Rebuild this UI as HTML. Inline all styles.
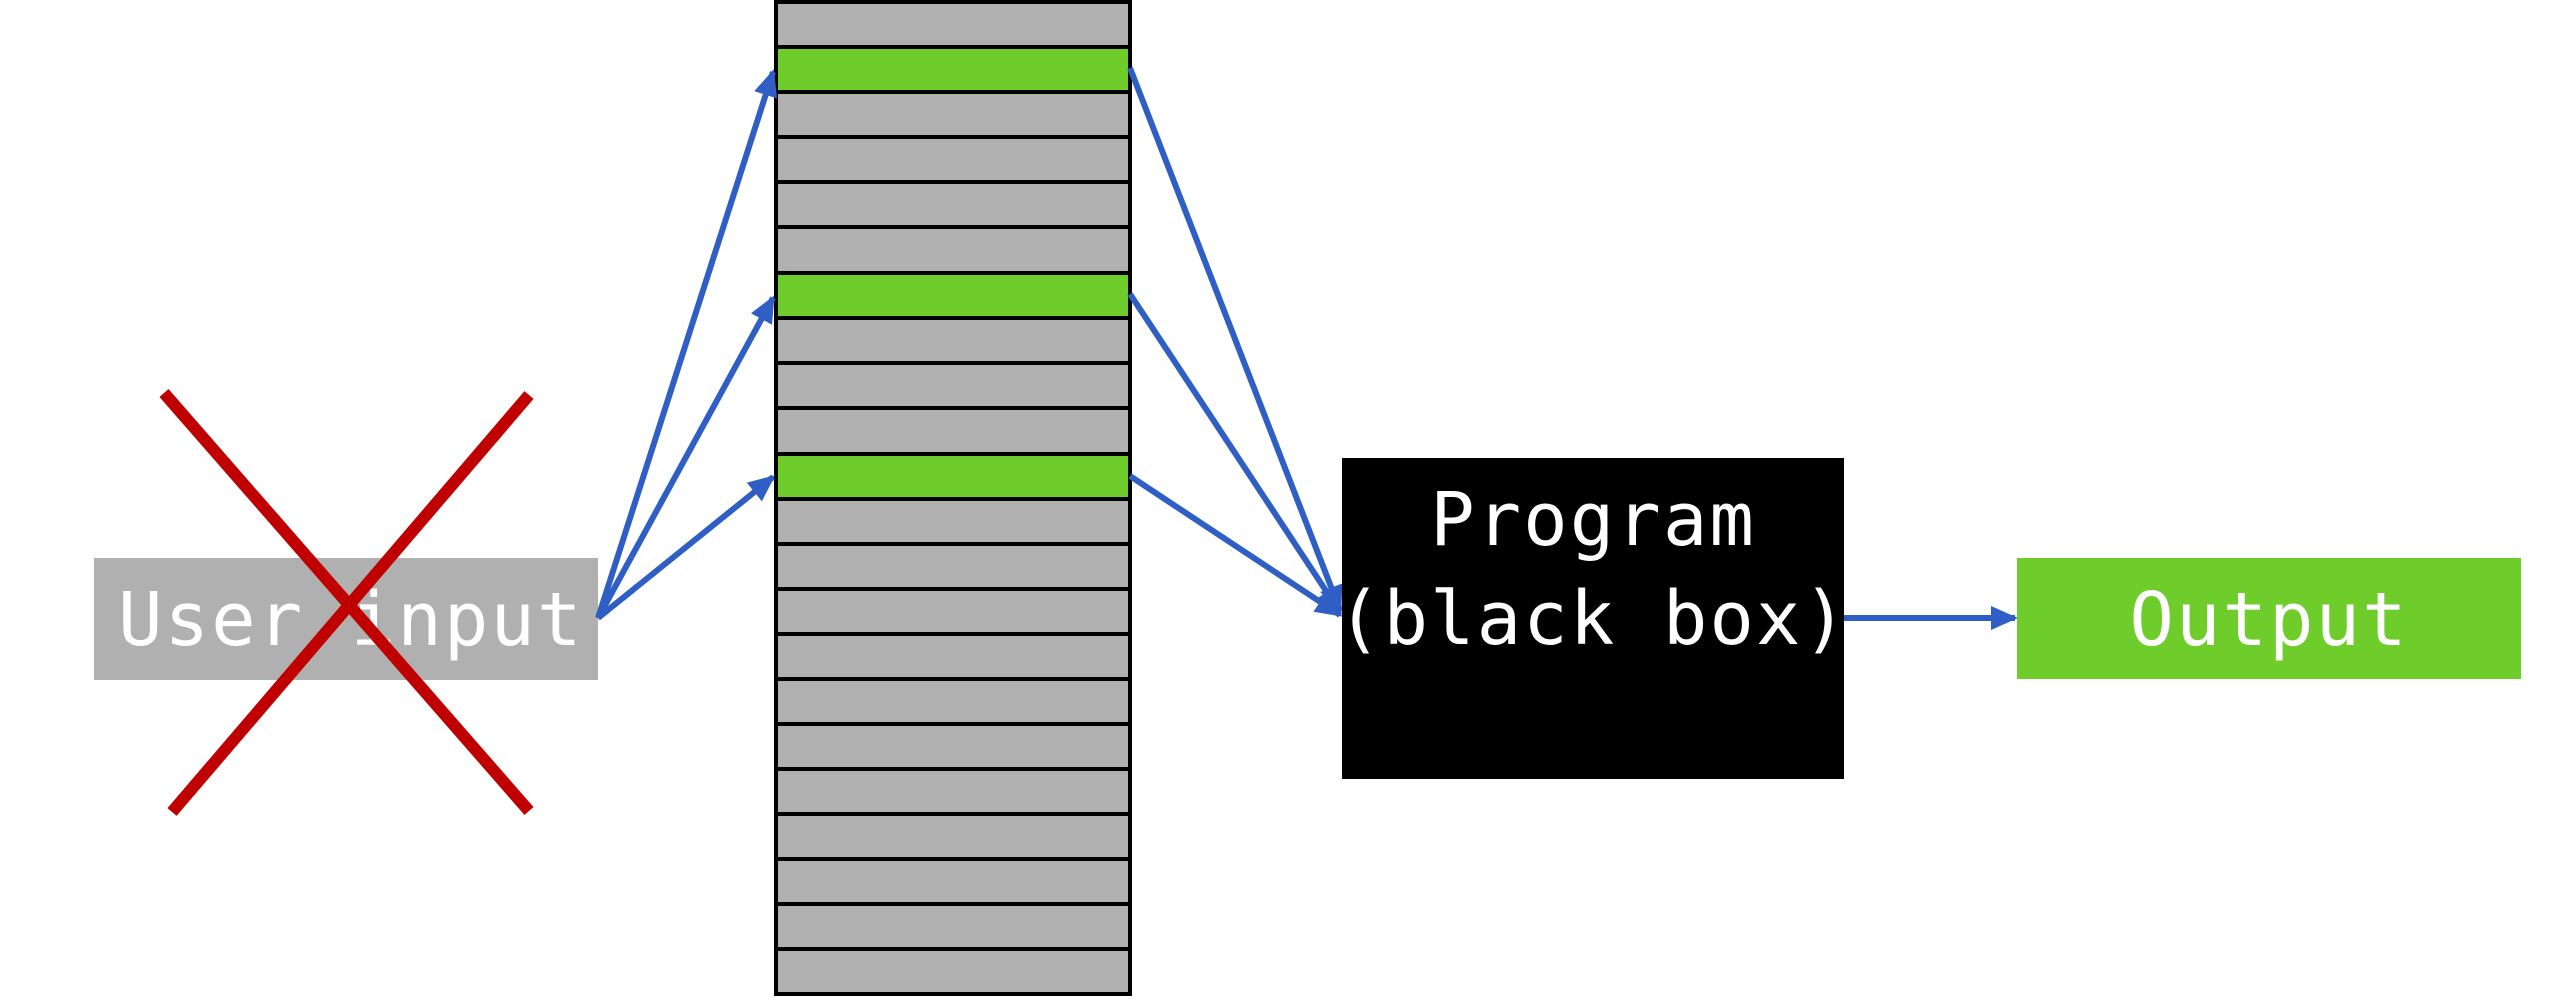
<!DOCTYPE html>
<html><head><meta charset="utf-8"><style>
html,body{margin:0;padding:0;background:#fff;}
svg text{font-family:"DejaVu Sans Mono","Liberation Mono",monospace;fill:#fff;font-size:74px;letter-spacing:2px;}
</style></head><body>
<svg width="2572" height="996" viewBox="0 0 2572 996" xmlns="http://www.w3.org/2000/svg">
<defs>
<marker id="a" markerWidth="4.5" markerHeight="4" refX="4" refY="2" orient="auto" markerUnits="strokeWidth">
<path d="M0,0 L4.5,2 L0,4 z" fill="#2f5fc4"/></marker>
</defs>
<rect x="776" y="2" width="354" height="992" fill="#b0b0b0"/>
<g fill="#6ecd2a">
<rect x="776" y="47" width="354" height="45"/>
<rect x="776" y="273" width="354" height="45"/>
<rect x="776" y="454" width="354" height="45"/>
</g>
<g stroke="#000" stroke-width="4" fill="none">
<rect x="776" y="2" width="354" height="992"/>
<path d="M776,47H1130M776,92H1130M776,137H1130M776,182H1130M776,227H1130M776,273H1130M776,318H1130M776,363H1130M776,408H1130M776,454H1130M776,499H1130M776,544H1130M776,589H1130M776,634H1130M776,679H1130M776,724H1130M776,769H1130M776,814H1130M776,859H1130M776,904H1130M776,949H1130"/>
</g>
<rect x="94" y="558" width="504" height="122" fill="#b0b0b0"/>
<text x="118" y="645">User input</text>
<g stroke="#c00000" stroke-width="12">
<line x1="164" y1="393" x2="529" y2="811"/>
<line x1="529" y1="395" x2="172" y2="812"/>
</g>
<g stroke="#2f5fc4" stroke-width="6" fill="none" marker-end="url(#a)">
<line x1="598" y1="618" x2="773" y2="72"/>
<line x1="598" y1="618" x2="773" y2="298"/>
<line x1="598" y1="618" x2="773" y2="477"/>
<line x1="1130" y1="68" x2="1340" y2="610"/>
<line x1="1130" y1="294" x2="1340" y2="612"/>
<line x1="1130" y1="476" x2="1340" y2="615"/>
<line x1="1844" y1="618" x2="2015" y2="618"/>
</g>
<rect x="1342" y="458" width="502" height="321" fill="#000"/>
<text x="1593" y="545" text-anchor="middle">Program</text>
<text x="1593" y="644" text-anchor="middle">(black box)</text>
<rect x="2017" y="558" width="504" height="121" fill="#6ecd2a"/>
<text x="2269" y="645" text-anchor="middle">Output</text>
</svg>
</body></html>
